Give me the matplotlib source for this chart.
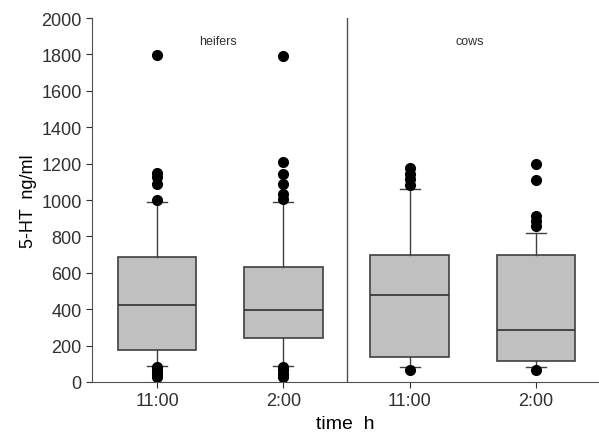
import numpy as np
import matplotlib
matplotlib.use('Agg')
from matplotlib import pyplot as plt

plt.rcParams['font.family'] = ['Liberation Sans', 'DejaVu Sans']

## Groups and times
groups = ['heifers', 'cows']
times = ['11:00', '2:00', '11:00', '2:00']

## Box statistics (ng/ml)
q1 = [175, 241, 140, 115]
med = [422, 395, 477, 285]
q3 = [685, 630, 698, 698]
whislo = [88, 88, 82, 82]
whishi = [990, 990, 1058, 820]
outliers = [
    [1795, 1150, 1125, 1090, 1000, 85, 70, 55, 40, 25],
    [1790, 1210, 1145, 1090, 1035, 1003, 85, 65, 45, 28],
    [1175, 1145, 1115, 1085, 65],
    [1200, 1108, 910, 882, 855, 68],
]

stats = []
for i in range(4):
    stats.append(dict(q1=q1[i], med=med[i], q3=q3[i], whislo=whislo[i],
                      whishi=whishi[i], fliers=outliers[i], label=times[i]))

fig = plt.figure(figsize=(5.99, 4.39), dpi=100)
ax = fig.add_axes([0.1536, 0.1276, 0.8464, 0.829])

edge = '#404040'
ax.bxp(stats, positions=[1, 2, 3, 4], widths=0.62, patch_artist=True,
       capwidths=0.16,
       boxprops=dict(facecolor='#c0c0c0', edgecolor=edge, linewidth=1.2),
       medianprops=dict(color='#303030', linewidth=1.2),
       whiskerprops=dict(color=edge, linewidth=1.0),
       capprops=dict(color=edge, linewidth=1.0),
       flierprops=dict(marker='o', markerfacecolor='black', markeredgecolor='black',
                       markersize=7))

## separator between heifers and cows
ax.axvline(2.5, color='#505050', linewidth=1.0)

ax.text(1.48, 1875, groups[0], fontsize=9, ha='center', va='center', color='#303030')
ax.text(3.48, 1875, groups[1], fontsize=9, ha='center', va='center', color='#303030')

ax.set_xlim(0.484, 4.5)
ax.set_ylim(0, 2000)
ax.set_yticks(np.arange(0, 2001, 200))
ax.set_xticks([1, 2, 3, 4])
ax.set_xticklabels(times)
ax.tick_params(labelsize=13, colors='#303030', length=4)
ax.spines['top'].set_visible(False)
ax.spines['right'].set_visible(False)
ax.spines['left'].set_color('#505050')
ax.spines['bottom'].set_color('#505050')
ax.set_ylabel('5-HT  ng/ml', fontsize=13, labelpad=3)
ax.set_xlabel('time  h', fontsize=14, labelpad=4)

plt.savefig('out.png', dpi=100)
